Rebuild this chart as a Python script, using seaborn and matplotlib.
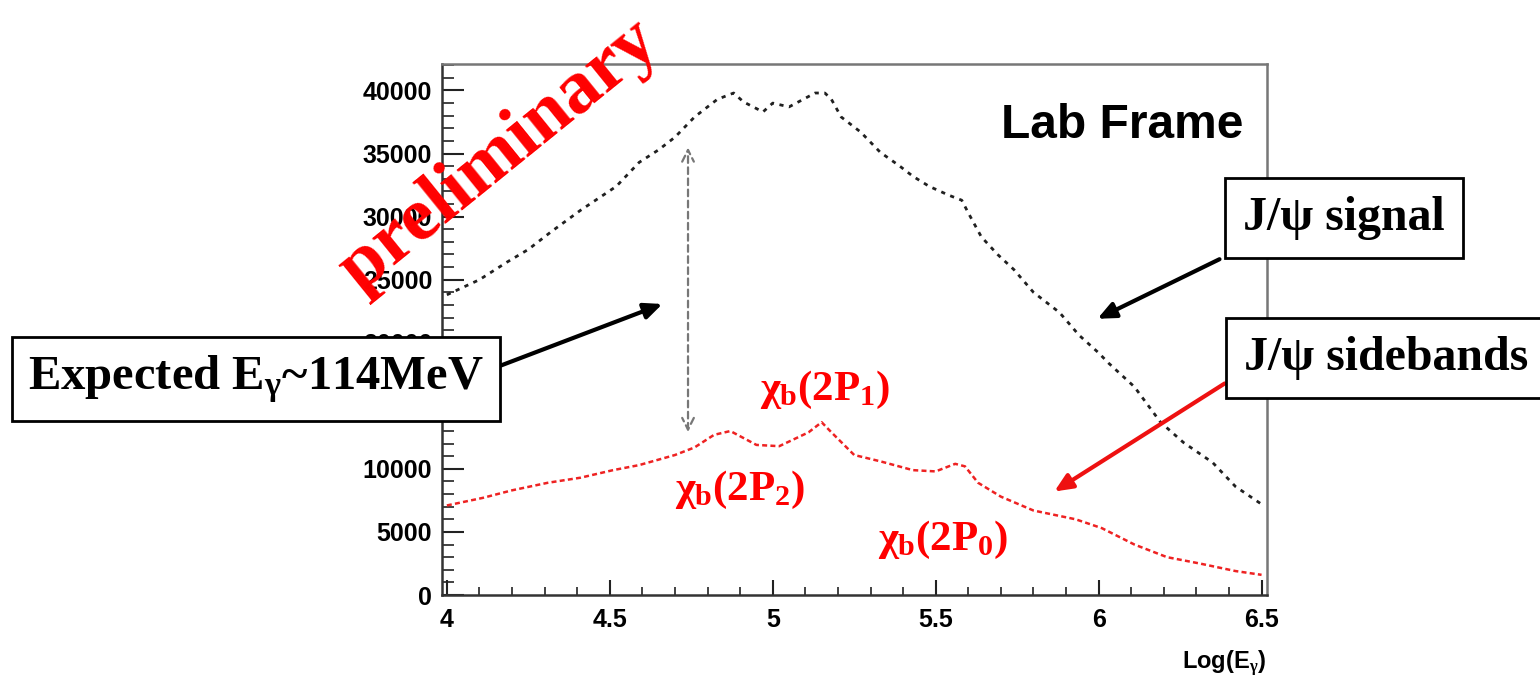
import numpy as np
import pandas as pd
import seaborn as sns
import matplotlib.pyplot as plt
from matplotlib.ticker import MultipleLocator

# values
sig_x = [4.00, 4.10, 4.185, 4.25, 4.32, 4.41, 4.52, 4.59, 4.65, 4.70, 4.76, 4.83, 4.88,
         4.91, 4.97, 5.00, 5.05, 5.13, 5.16, 5.18, 5.21, 5.27, 5.33, 5.39, 5.43, 5.48,
         5.54, 5.58, 5.60, 5.64, 5.69, 5.74, 5.80, 5.88, 5.94, 6.00, 6.03, 6.11, 6.19,
         6.26, 6.35, 6.42, 6.50]
sig_y = [23800, 25000, 26400, 27400, 28800, 30500, 32400, 34300, 35300, 36300, 37900, 39300, 39800,
         39100, 38300, 39000, 38700, 39800, 39800, 39300, 37900, 36700, 35100, 34000, 33200, 32400,
         31700, 31300, 30300, 28400, 27000, 25800, 24000, 22400, 20600, 19200, 18400, 16500, 13700,
         12100, 10500, 8600, 7200]

side_x = [4.00, 4.11, 4.20, 4.31, 4.41, 4.51, 4.59, 4.70, 4.76, 4.82, 4.87, 4.95, 5.02,
          5.11, 5.15, 5.18, 5.25, 5.33, 5.43, 5.50, 5.56, 5.59, 5.63, 5.70, 5.80, 5.93,
          6.01, 6.11, 6.21, 6.31, 6.42, 6.50]
side_y = [7100, 7700, 8300, 8900, 9300, 9900, 10300, 11100, 11700, 12700, 13000, 11900, 11800,
          12900, 13700, 12900, 11100, 10600, 9900, 9800, 10400, 10200, 8900, 7800, 6700, 6000,
          5300, 4000, 3000, 2500, 1900, 1600]

x_ticks = [4, 4.5, 5, 5.5, 6, 6.5]
y_ticks = [0, 5000, 10000, 15000, 20000, 25000, 30000, 35000, 40000]
arrow_x = 4.74
arrow_y = [12700, 35700]

sns.set_theme(style="white")
plt.rcParams['font.family'] = ['Liberation Sans', 'DejaVu Sans']
plt.rcParams['text.color'] = 'black'
plt.rcParams['xtick.color'] = 'black'
plt.rcParams['ytick.color'] = 'black'
plt.rcParams['mathtext.fontset'] = 'custom'
plt.rcParams['mathtext.rm'] = 'Liberation Serif:bold'
plt.rcParams['mathtext.it'] = 'Liberation Serif:bold'
plt.rcParams['mathtext.bf'] = 'Liberation Serif:bold'

fig = plt.figure(figsize=(15.4, 6.78), dpi=100)
ax = fig.add_axes([0.287, 0.1224, 0.536, 0.7832])

sig = pd.DataFrame({"x": sig_x, "y": sig_y})
side = pd.DataFrame({"x": side_x, "y": side_y})
sns.lineplot(data=sig, x="x", y="y", ax=ax, color="#202020", lw=2.0,
             linestyle=(0, (1.5, 2.0)), sort=False, estimator=None)
sns.lineplot(data=side, x="x", y="y", ax=ax, color="#ee2222", lw=1.8,
             linestyle=(0, (2.0, 1.3)), sort=False, estimator=None)

ax.set_xlim(3.985, 6.518)
ax.set_ylim(0, 42100)
ax.set_xticks(x_ticks)
ax.set_xticklabels([f"{t:g}" for t in x_ticks])
ax.set_yticks(y_ticks)
ax.set_yticklabels([str(t) for t in y_ticks])
ax.xaxis.set_minor_locator(MultipleLocator(0.1))
ax.yaxis.set_minor_locator(MultipleLocator(1000))
ax.tick_params(axis="x", which="major", direction="in", length=11, width=1.5, pad=9, labelsize=18)
ax.tick_params(axis="x", which="minor", direction="in", length=6, width=1.2)
ax.tick_params(axis="y", which="major", direction="in", length=16, width=1.5, pad=7, labelsize=18)
ax.tick_params(axis="y", which="minor", direction="in", length=8.5, width=1.2)
ax.tick_params(bottom=True, left=True, which="both", colors="#222222", labelcolor="black")
for lab in ax.get_xticklabels() + ax.get_yticklabels():
    lab.set_fontweight("bold")
ax.set_xlabel("")
ax.set_ylabel("")
for s in ["left", "bottom"]:
    ax.spines[s].set_color("#333333")
    ax.spines[s].set_linewidth(1.8)
for s in ["top", "right"]:
    ax.spines[s].set_color("#777777")
    ax.spines[s].set_linewidth(1.8)

fig.text(1266, 678 - 669, r"Log(E$_{\gamma}$)", transform=None, ha="right", va="baseline",
         fontsize=17, fontweight="bold")
fig.text(1243, 678 - 125, "Lab Frame", transform=None, ha="right", va="center",
         fontsize=34.5, fontweight="bold")

# dashed double arrow
ax.annotate("", xy=(arrow_x, arrow_y[1]), xytext=(arrow_x, arrow_y[0]),
            arrowprops=dict(arrowstyle="<->,head_length=0.7,head_width=0.35",
                            ls=(0, (3, 2)), color="#777777", lw=1.6))

serif = ["Liberation Serif", "DejaVu Serif"]
box = dict(boxstyle="square,pad=0.38", fc="white", ec="black", lw=2)

ax.annotate("", xy=(1095, 678 - 320), xytext=(1222, 678 - 258), xycoords="figure pixels",
            textcoords="figure pixels",
            arrowprops=dict(arrowstyle="-|>,head_length=0.9,head_width=0.4", color="black", lw=3))
ax.annotate("", xy=(1052, 678 - 493), xytext=(1227, 678 - 382), xycoords="figure pixels",
            textcoords="figure pixels",
            arrowprops=dict(arrowstyle="-|>,head_length=0.9,head_width=0.4", color="#ee1111", lw=3))
ax.annotate("", xy=(665, 678 - 303), xytext=(497, 678 - 367), xycoords="figure pixels",
            textcoords="figure pixels",
            arrowprops=dict(arrowstyle="-|>,head_length=0.9,head_width=0.4", color="black", lw=3))

fig.text(1344, 678 - 218, "J/ψ signal", transform=None, ha="center", va="center",
         family=serif, fontweight="bold", fontsize=34.5, bbox=box)
fig.text(1244, 678 - 358, "J/ψ sidebands", transform=None, ha="left", va="center",
         family=serif, fontweight="bold", fontsize=34.5, bbox=box)
fig.text(256, 678 - 379, r"Expected E$_{\gamma}$~114MeV", transform=None, ha="center", va="center",
         family=serif, fontweight="bold", fontsize=35,
         bbox=dict(boxstyle="square,pad=0.33", fc="white", ec="black", lw=2))

red = "#ff0000"
fig.text(825, 678 - 390, r"$\chi_{b}(2P_{1})$", transform=None, ha="center", va="center",
         fontsize=31, color=red)
fig.text(740, 678 - 490, r"$\chi_{b}(2P_{2})$", transform=None, ha="center", va="center",
         fontsize=31, color=red)
fig.text(943, 678 - 540, r"$\chi_{b}(2P_{0})$", transform=None, ha="center", va="center",
         fontsize=31, color=red)

fig.text(499, 678 - 156, "preliminary", transform=None, ha="center", va="center",
         family=serif, fontweight="bold", fontsize=55, color=red, rotation=39,
         rotation_mode="anchor")

fig.savefig("out.png", dpi=100)
